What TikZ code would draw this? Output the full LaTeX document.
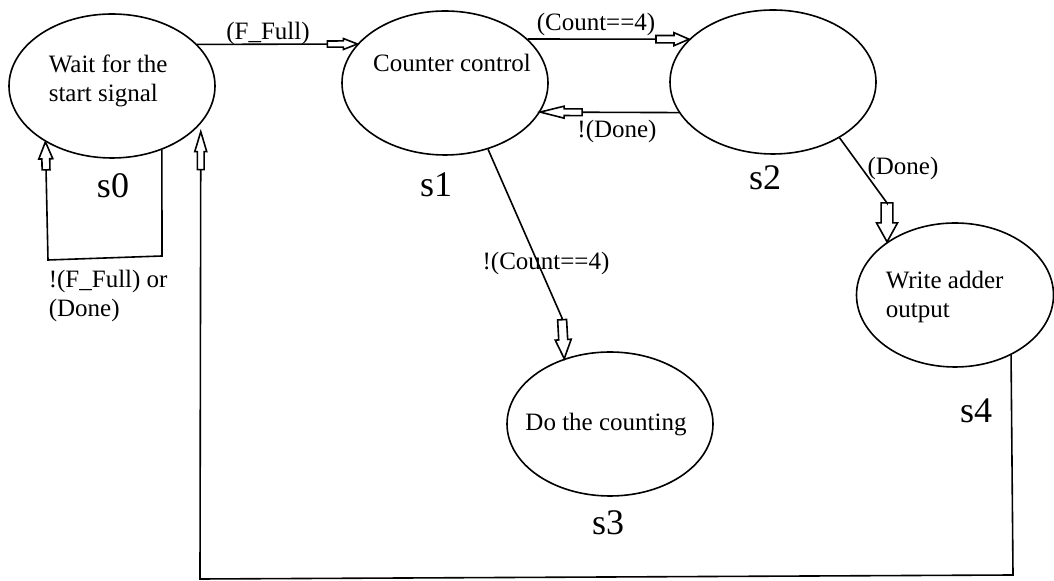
\documentclass[tikz,border=0pt]{standalone}
\usepackage{fontspec}
\setmainfont{Liberation Serif}
\usetikzlibrary{calc,shapes.geometric,arrows.meta}

% Полая стрелка-"блок"
\pgfdeclarearrow{
  name = Block,
  defaults = {length = 15pt, width = 6pt, inset = 7pt},
  parameters = {\the\pgfarrowlength,\the\pgfarrowwidth,\the\pgfarrowinset},
  setup code = {
    \pgfarrowssettipend{0pt}
    \pgfarrowssetbackend{-\pgfarrowlength}
    \pgfarrowssetlineend{-\pgfarrowlength}
    \pgfarrowssavethe\pgfarrowlength
    \pgfarrowssavethe\pgfarrowwidth
    \pgfarrowssavethe\pgfarrowinset
  },
  drawing code = {
    \pgfpathmoveto{\pgfpointorigin}
    \pgfpathlineto{\pgfpoint{-\pgfarrowinset}{0.5\pgfarrowwidth}}
    \pgfpathlineto{\pgfpoint{-\pgfarrowinset}{0.28\pgfarrowwidth}}
    \pgfpathlineto{\pgfpoint{-\pgfarrowlength}{0.28\pgfarrowwidth}}
    \pgfpathlineto{\pgfpoint{-\pgfarrowlength}{-0.28\pgfarrowwidth}}
    \pgfpathlineto{\pgfpoint{-\pgfarrowinset}{-0.28\pgfarrowwidth}}
    \pgfpathlineto{\pgfpoint{-\pgfarrowinset}{-0.5\pgfarrowwidth}}
    \pgfpathclose
    \pgfusepathqstroke
  }
}

\begin{document}
\begin{tikzpicture}[
        x=0.5pt,y=-0.5pt,thick
        ,state/.style={draw,ellipse,minimum width=103pt,minimum height=72pt,inner sep=0pt}
        ,txt/.style={inner sep=0pt,font=\fontsize{12.5}{14.5}\selectfont,align=left}
        ,cond/.style={inner sep=0pt,anchor=base,font=\fontsize{12.5}{14}\selectfont}
        ,tag/.style={inner sep=0pt,anchor=base,font=\fontsize{18}{20}\selectfont}
    ]
    \useasboundingbox (0,0) rectangle (1054,581);
    % Состояния
    \node[state] (s0) at (112,86) {};
    \node[state] (s1) at (445,83) {};
    \node[state] (s2) at (773,82) {};
    \node[state] (s3) at (610,424) {};
    \node[state,minimum width=98.5pt] (s4) at (955,295) {};
    % Подписи внутри
    \node[txt,anchor=west] (t0) at (48,81) {Wait for the\\start signal};
    \node[txt,anchor=base] (t1) at (452,72) {Counter control};
    \node[txt,anchor=base] (t3) at (606,431) {Do the counting};
    \node[txt,anchor=west] (t4) at (885,297) {Write adder\\output};
    % Имена состояний
    \node[tag] (n0) at (113,198) {s0};
    \node[tag] (n1) at (436,197) {s1};
    \node[tag] (n2) at (765,190) {s2};
    \node[tag] (n3) at (608,535) {s3};
    \node[tag] (n4) at (976,423) {s4};
    % Углы ломаных
    \coordinate (c00a) at (162,256);
    \coordinate (c00b) at (48,260);
    \coordinate (c13) at (562,318);
    \coordinate (c24) at (887,203);
    \coordinate (c40a) at (1013,575);
    \coordinate (c40b) at (200,579);
    % Переходы
    \draw[-{Block[length=15pt,width=5.5pt,inset=7pt]}] (s0.26) -- (s1.156);
    \draw[-{Block[length=16.5pt,width=6.5pt,inset=7.5pt]}] (s1.28) -- (s2.153);
    \draw[-{Block[length=21pt,width=6pt,inset=12pt]}] (s2.198) -- (s1.343);
    \draw[-{Block[length=19.5pt,width=8pt,inset=9.5pt]}] (s1.-57) -- (c13) -- (s3.125);
    \draw[-{Block[length=19.5pt,width=10.5pt,inset=9.5pt]}] (s2.-40) -- (c24) -- (s4.142);
    \draw[-{Block[length=14pt,width=7pt,inset=8.5pt]}] (s0.-52) -- (c00a) -- (c00b) -- (s0.220);
    \draw[-{Block[length=19pt,width=6pt,inset=10pt]},shorten >=4pt] (s4.-47) -- (c40a) -- (c40b) -- (s0.-23);
    % Условия
    \node[cond] (l01) at (268,40) {(F\_Full)};
    \node[cond] (l12) at (596,31) {(Count==4)};
    \node[cond] (l21) at (617,138) {!(Done)};
    \node[cond] (l24) at (903,175) {(Done)};
    \node[cond] (l13) at (546,270) {!(Count==4)};
    \node[txt,anchor=west] (l00) at (48,296) {!(F\_Full) or\\(Done)};
\end{tikzpicture}
\end{document}
